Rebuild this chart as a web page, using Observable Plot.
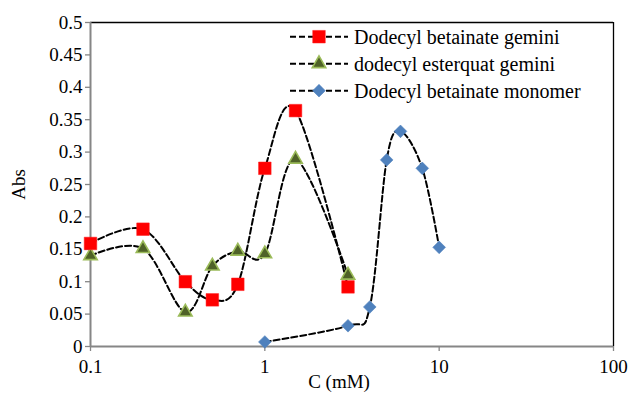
<!DOCTYPE html>
<html>
<head>
<meta charset="utf-8">
<script src="https://cdn.jsdelivr.net/npm/d3@7"></script>
<script src="https://cdn.jsdelivr.net/npm/@observablehq/plot@0.6"></script>
<style>
  html, body { margin: 0; padding: 0; background: #fff; }
  #wrap { position: relative; width: 630px; height: 394px; }
  #wrap svg, #wrap text { font-family: 'Liberation Serif', 'Times New Roman', Tinos, 'DejaVu Serif', serif !important; }
</style>
</head>
<body>
<div id="wrap"></div>
<script>
// ---- data ----
const seriesNames = ["Dodecyl betainate gemini", "dodecyl esterquat gemini", "Dodecyl betainate monomer"];

const geminiBetainateC = [0.1, 0.2, 0.35, 0.5, 0.7, 1, 1.5, 3];
const geminiBetainateAbs = [0.159, 0.181, 0.100, 0.072, 0.096, 0.275, 0.364, 0.092];

const esterquatC = [0.1, 0.2, 0.35, 0.5, 0.7, 1, 1.5, 3];
const esterquatAbs = [0.140, 0.151, 0.053, 0.124, 0.147, 0.143, 0.289, 0.110];

const monomerC = [1, 3, 4, 5, 6, 8, 10];
const monomerAbs = [0.007, 0.032, 0.061, 0.288, 0.332, 0.275, 0.153];

const xTicks = [0.1, 1, 10, 100];
const xTickLabels = ["0.1", "1", "10", "100"];
const yTicks = [0, 0.05, 0.1, 0.15, 0.2, 0.25, 0.3, 0.35, 0.4, 0.45, 0.5];
const yTickLabels = ["0", "0.05", "0.1", "0.15", "0.2", "0.25", "0.3", "0.35", "0.4", "0.45", "0.5"];

const xLabel = "C (mM)";
const yLabel = "Abs";

// ---- build tables ----
const toRows = (cs, vs) => cs.map((c, i) => ({c, v: vs[i]}));
const betainate = toRows(geminiBetainateC, geminiBetainateAbs);
const esterquat = toRows(esterquatC, esterquatAbs);
const monomer = toRows(monomerC, monomerAbs);

const FONT = "'Liberation Serif', 'Times New Roman', 'DejaVu Serif', serif";
const GRAY = "#868686";
const lineStyle = {x: "c", y: "v", stroke: "black", strokeWidth: 2, strokeDasharray: "6,3", curve: "cardinal"};

const sty = {
  sq: {symbol: "square", r: 7.1, fill: "#ff0000", stroke: "#ff2020", strokeWidth: 0.5},
  tri: {symbol: "triangle", r: 5.0, fill: "#4f6228", stroke: "#9bbb59", strokeWidth: 1.6},
  dia: {symbol: "diamond2", r: 5.7, fill: "#4f81bd", stroke: "#4f81bd", strokeWidth: 0.6}
};

const chart = Plot.plot({
  width: 630,
  height: 394,
  marginLeft: 90,
  marginRight: 17,
  marginTop: 22,
  marginBottom: 48,
  style: {fontFamily: FONT, fontSize: "19px", color: "#000", background: "#fff"},
  x: {type: "log", domain: [0.1, 100]},
  y: {domain: [0, 0.5]},
  marks: [
    Plot.ruleY([0.5], {stroke: "black", strokeWidth: 1.3}),
    Plot.ruleX([100], {stroke: "black", strokeWidth: 1.3}),
    Plot.axisY({
      ticks: yTicks,
      tickFormat: (d) => yTickLabels[yTicks.indexOf(d)],
      tickSize: 5, tickPadding: 3, stroke: GRAY, strokeWidth: 1.3,
      fontSize: 19, fill: "black",
      label: yLabel, labelAnchor: "center", labelArrow: "none", labelOffset: 79
    }),
    Plot.axisX({
      ticks: xTicks,
      tickFormat: (d) => xTickLabels[xTicks.indexOf(d)],
      tickSize: 5, tickPadding: 8, stroke: GRAY, strokeWidth: 1.3,
      fontSize: 19, fill: "black",
      label: null
    }),
    Plot.text([xLabel], {frameAnchor: "bottom", dy: 41, dx: -13, text: d => d, fontSize: 19, fill: "black"}),
    Plot.ruleX([0.1], {stroke: GRAY, strokeWidth: 2}),
    Plot.ruleY([0], {stroke: GRAY, strokeWidth: 2}),
    Plot.line(betainate, lineStyle),
    Plot.line(esterquat, lineStyle),
    Plot.line(monomer, lineStyle),
    Plot.dot(esterquat, {x: "c", y: "v", ...sty.tri}),
    Plot.dot(betainate, {x: "c", y: "v", ...sty.sq}),
    Plot.dot(monomer, {x: "c", y: "v", ...sty.dia})
  ]
});
document.getElementById("wrap").appendChild(chart);

// ---- legend (overlay) ----
const legendItems = [
  {name: seriesNames[0], s: sty.sq},
  {name: seriesNames[1], s: sty.tri},
  {name: seriesNames[2], s: sty.dia}
];
const symMap = {square: d3.symbolSquare, triangle: d3.symbolTriangle, diamond2: d3.symbolDiamond2};
const lg = d3.select("#wrap").append("svg")
  .attr("width", 630).attr("height", 394)
  .style("position", "absolute").style("left", "0px").style("top", "0px")
  .style("pointer-events", "none");
const rows = lg.selectAll("g").data(legendItems).join("g")
  .attr("transform", (d, i) => `translate(290, ${36.7 + i * 27})`);
rows.append("line").attr("x1", 0).attr("x2", 58).attr("y1", 0).attr("y2", 0)
  .attr("stroke", "black").attr("stroke-width", 2).attr("stroke-dasharray", "6,3");
rows.append("path")
  .attr("transform", "translate(29,0)")
  .attr("d", d => d3.symbol(symMap[d.s.symbol], d.s.r * d.s.r * Math.PI)())
  .attr("fill", d => d.s.fill).attr("stroke", d => d.s.stroke).attr("stroke-width", d => d.s.strokeWidth);
rows.append("text").attr("x", 64).attr("y", 0).attr("dy", "0.35em")
  .attr("font-size", 20).text(d => d.name);
</script>
</body>
</html>
